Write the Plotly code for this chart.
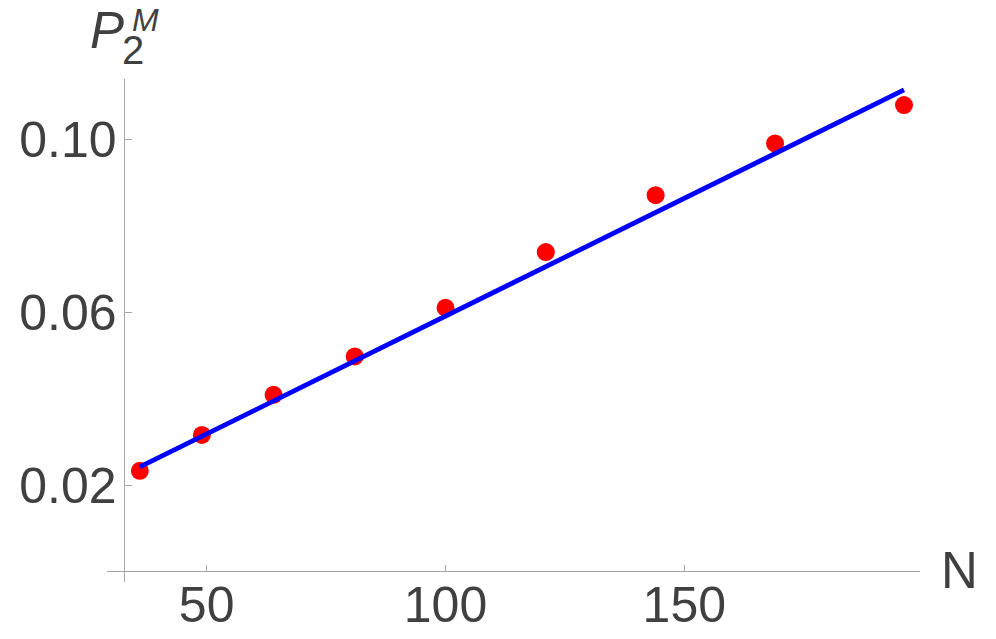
import plotly.graph_objects as go

# data
n_vals = [36, 49, 64, 81, 100, 121, 144, 169, 196]
p2m_vals = [0.0233, 0.0316, 0.0409, 0.0498, 0.0611, 0.0740, 0.0872, 0.0992, 0.1081]

# fitted straight line, end points
fit_n = [36, 196]
fit_p = [0.0242, 0.1116]

x_ticks = [50, 100, 150]
y_ticks = [0.02, 0.06, 0.10]
y_tick_text = ['0.02', '0.06', '0.10']

W, H = 996, 639
L, R, T, B = 107, 76, 79, 57
FONT = 'Arial, Liberation Sans, sans-serif'
TXT = '#404040'
AX = '#a6a6a6'


def px(x):
    # screen pixel -> paper x
    return (x - L) / (W - L - R)


def py(y):
    # screen pixel -> paper y
    return (H - B - y) / (H - T - B)


fig = go.Figure()
fig.add_trace(go.Scatter(
    x=n_vals, y=p2m_vals, mode='markers',
    marker=dict(color='#ff0000', size=18, line=dict(width=0)),
    showlegend=False,
))
fig.add_trace(go.Scatter(
    x=fit_n, y=fit_p, mode='lines',
    line=dict(color='#0000ff', width=4.8),
    showlegend=False,
))

fig.update_layout(
    width=W, height=H,
    margin=dict(l=L, r=R, t=T, b=B, autoexpand=False),
    paper_bgcolor='white', plot_bgcolor='white',
    font=dict(family=FONT, color=TXT, size=50),
    xaxis=dict(range=[29.13, 199.35], showgrid=False, zeroline=False,
               automargin=False,
               showline=True, linecolor=AX, linewidth=1.3,
               anchor='free', position=py(571),
               tickvals=x_ticks, ticks='inside', ticklen=6,
               tickcolor=AX, tickwidth=1.3, ticklabelstandoff=-10,
               tickfont=dict(size=50, color=TXT, family=FONT)),
    yaxis=dict(range=[-0.00249, 0.11414], showgrid=False, zeroline=False,
               automargin=False,
               showline=True, linecolor=AX, linewidth=1.3,
               anchor='free', position=px(123.7),
               tickvals=y_ticks, ticktext=y_tick_text,
               ticks='inside', ticklen=7,
               tickcolor=AX, tickwidth=1.3, ticklabelstandoff=-3,
               tickfont=dict(size=50, color=TXT, family=FONT)),
)

# axis labels
fig.add_annotation(text='<i>P</i>', xref='paper', yref='paper',
                   x=px(107), y=py(31), xanchor='center', yanchor='middle',
                   showarrow=False, font=dict(size=51, color=TXT, family=FONT))
fig.add_annotation(text='2', xref='paper', yref='paper',
                   x=px(133), y=py(50), xanchor='center', yanchor='middle',
                   showarrow=False, font=dict(size=40, color=TXT, family=FONT))
fig.add_annotation(text='<i>M</i>', xref='paper', yref='paper',
                   x=px(145), y=py(0), xanchor='center', yanchor='top',
                   showarrow=False, font=dict(size=32, color=TXT, family=FONT))
fig.add_annotation(text='N', xref='paper', yref='paper',
                   x=px(959), y=py(570), xanchor='center', yanchor='middle',
                   showarrow=False, font=dict(size=51, color=TXT, family=FONT))

# drop the default 8px body margin so the figure fills the window
fig.write_html("out.html", config={'displayModeBar': False},
               post_script="document.body.style.margin='0';")
